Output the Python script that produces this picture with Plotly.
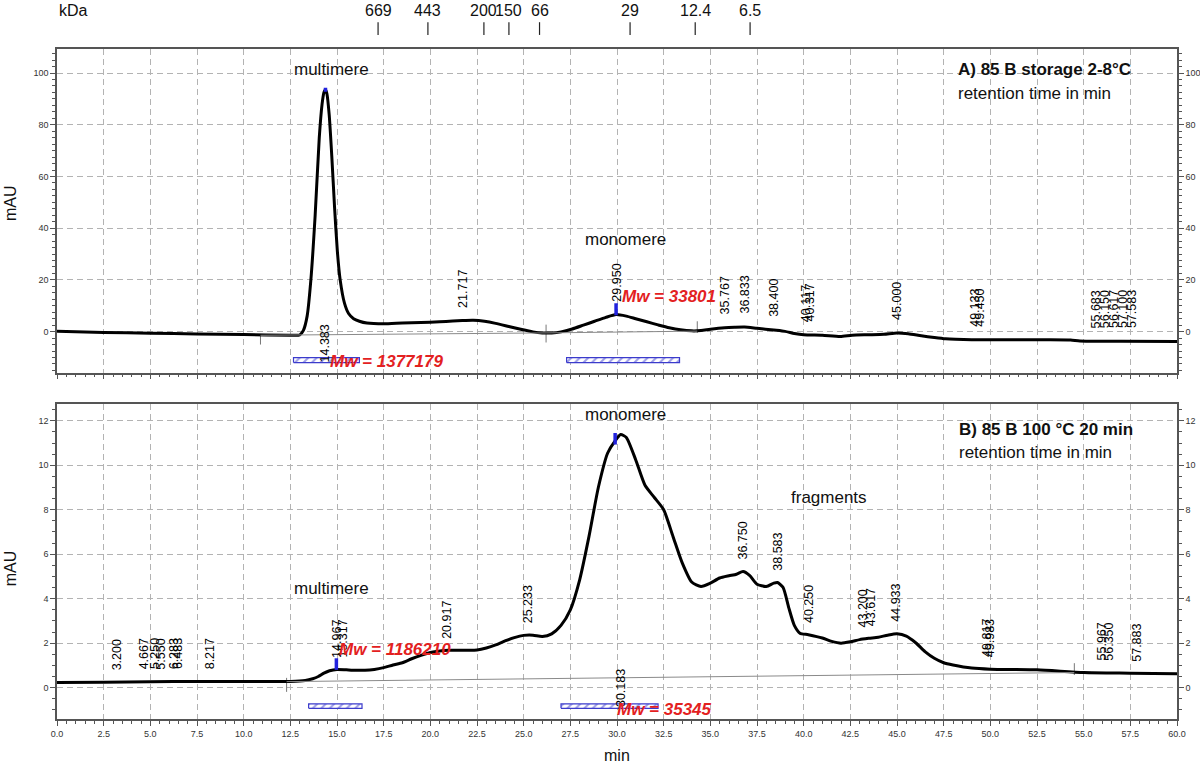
import numpy as np
import plotly.graph_objects as go

# ---------------- data ----------------
# Panel A: 85 B storage 2-8 °C  (retention time [min], signal [mAU])
tA = [0, 2.5, 5, 7.5, 10, 12.5, 13.0, 13.2, 13.4, 13.6, 13.83, 14.05, 14.2, 14.3, 14.38,
      14.46, 14.58, 14.72, 14.87, 15.02, 15.17, 15.4, 15.62, 15.89, 16.2, 16.6, 17.5,
      18.5, 19.5, 20.5, 21.2, 21.717, 22.3, 22.9, 23.5, 24.2, 24.9, 25.5, 26.0, 26.5,
      27.0, 27.6, 28.2, 28.8, 29.4, 29.95, 30.5, 31.0, 31.6, 32.2, 32.8, 33.4, 34.0,
      34.5, 35.0, 35.767, 36.3, 36.833, 37.5, 38.4, 39.0, 39.5, 40.0, 41.0, 41.96, 42.6,
      43.5, 44.3, 45.0, 45.6, 46.3, 47.0, 47.6, 49.0, 51.0, 53.0, 54.3, 54.8, 57.0, 60.0]
vA = [0.1, -0.3, -0.6, -0.9, -1.1, -1.4, -1.3, 0.5, 6.0, 20.0, 45.0, 75.0, 88.0, 92.5, 93.5,
      92.0, 84.0, 68.0, 48.0, 31.0, 20.0, 11.0, 7.0, 5.0, 4.0, 3.3, 3.0,
      3.3, 3.5, 3.8, 4.1, 4.3, 4.4, 4.0, 3.2, 2.0, 0.8, -0.1, -0.5, -0.5,
      -0.1, 1.0, 2.5, 4.0, 5.5, 6.6, 6.0, 5.0, 3.8, 2.6, 1.5, 0.7, 0.3,
      0.4, 0.9, 1.5, 1.7, 1.8, 1.3, 0.6, 0.1, -0.7, -1.2, -1.4, -1.9, -1.4,
      -1.2, -1.0, -0.5, -0.8, -1.6, -2.3, -2.8, -3.1, -3.1, -3.1, -3.2, -3.6, -3.7, -3.8]

# Panel B: 85 B 100 °C 20 min
tB = [0, 2.5, 5, 7.5, 10, 12.5, 13.3, 13.7, 14.0, 14.3, 14.6, 15.0, 15.5, 16.0, 16.5, 17.0,
      17.5, 18.0, 18.5, 19.0, 19.5, 20.0, 20.5, 21.0, 21.5, 22.0, 22.5, 23.0, 23.5, 24.0,
      24.5, 25.0, 25.5, 26.0, 26.5, 27.0, 27.5, 28.0, 28.5, 29.0, 29.5, 29.9, 30.2, 30.5,
      31.0, 31.5, 32.0, 32.5, 33.0, 33.5, 34.0, 34.5, 35.0, 35.5, 36.0, 36.4, 36.75, 37.1,
      37.5, 38.0, 38.4, 38.6, 38.9, 39.2, 39.5, 39.8, 40.25, 41.0, 41.5, 42.0, 42.5, 43.0,
      43.5, 44.0, 44.5, 45.0, 45.5, 46.0, 46.5, 47.0, 47.5, 48.0, 49.0, 50.0, 52.5, 55.0,
      57.5, 60.0]
vB = [0.23, 0.24, 0.27, 0.28, 0.28, 0.28, 0.32, 0.40, 0.50, 0.65, 0.76, 0.82, 0.80, 0.78, 0.78, 0.82,
      0.90, 1.02, 1.12, 1.30, 1.45, 1.58, 1.65, 1.68, 1.68, 1.68, 1.69, 1.78, 1.92, 2.10,
      2.25, 2.35, 2.36, 2.30, 2.42, 2.80, 3.50, 4.85, 6.80, 9.00, 10.55, 11.10, 11.38, 11.25,
      10.25, 9.10, 8.55, 8.00, 6.80, 5.60, 4.75, 4.55, 4.70, 4.93, 5.03, 5.10, 5.22, 5.05,
      4.65, 4.55, 4.70, 4.73, 4.50, 3.60, 2.80, 2.45, 2.38, 2.23, 2.08, 2.00, 2.06, 2.16,
      2.22, 2.27, 2.36, 2.42, 2.32, 2.02, 1.62, 1.32, 1.12, 1.02, 0.88, 0.83, 0.80, 0.68,
      0.65, 0.62]

# integration baselines
baseA1_t = [10.9, 26.2]; baseA1_v = [-1.4, -0.5]
baseA2_t = [26.2, 34.3]; baseA2_v = [-0.5, 0.2]
baseB_t = [12.3, 54.5];  baseB_v = [0.27, 0.68]
# baseline event marks (time, low, high)
evA_t = [10.9, 26.2, 34.3]; evA_lo = [-5.0, -4.2, -0.5]; evA_hi = [-1.0, 2.7, 4.0]
evB_t = [12.3, 54.5];       evB_lo = [-0.19, 0.57];      evB_hi = [0.44, 1.10]

# integration (Mw) ranges
intA_start = [12.67, 27.3]; intA_end = [16.2, 33.35]; intA_lo = -11.98; intA_hi = -10.05
intB_start = [13.48, 27.0]; intB_end = [16.34, 32.2]; intB_lo = -0.93; intB_hi = -0.73

# peak apex markers (time, low, high)
mkA_t = [14.383, 29.95]; mkA_lo = [92.8, 6.3]; mkA_hi = [94.3, 11.0]
mkB_t = [14.967, 29.9];  mkB_lo = [0.8, 10.93]; mkB_hi = [1.32, 11.45]

# peak retention-time labels
peaksA = ["21.717", "29.950", "35.767", "36.833", "38.400", "40.117", "40.317", "45.000",
          "49.133", "49.450", "55.683", "56.150", "56.617", "57.100", "57.583"]
peaksB = ["3.200", "4.667", "5.250", "5.550", "6.283", "6.483", "8.217", "14.967", "15.317",
          "20.917", "25.233", "36.750", "38.583", "40.250", "43.200", "43.617", "44.933",
          "49.817", "49.983", "55.967", "56.350", "57.883"]
peakA_low = "14.383"
peakB_low = "30.183"

mwA = ["Mw = 1377179", "Mw = 33801"]
mwB = ["Mw = 1186210", "Mw = 35345"]

kda_labels = ["669", "443", "200", "150", "66", "29", "12.4", "6.5"]
kda_time = [17.2, 19.87, 22.87, 24.21, 25.85, 30.7, 34.19, 37.13]

x_ticks = [i * 2.5 for i in range(25)]

# ---------------- styling ----------------
FONT = "Liberation Sans, Arial, sans-serif"
AX = "#555555"
GRID = "#b3b3b3"
RED = "#e3211f"
BLUE = "#2222dd"

fig = go.Figure()

def curve(t, v, xa, ya, width=3.0, color="black", shape="spline"):
    fig.add_trace(go.Scatter(x=t, y=v, xaxis=xa, yaxis=ya, mode="lines",
                             line=dict(color=color, width=width, shape=shape, smoothing=0.6),
                             hoverinfo="skip", showlegend=False))

# baselines (drawn against the right-hand axes, which share the left axes' ranges)
curve(baseA1_t, baseA1_v, "x", "y3", 1, "#8a8a8a", "linear")
curve(baseA2_t, baseA2_v, "x", "y3", 1, "#8a8a8a", "linear")
curve(baseB_t, baseB_v, "x2", "y4", 1, "#8a8a8a", "linear")
for t, lo, hi in zip(evA_t, evA_lo, evA_hi):
    curve([t, t], [lo, hi], "x", "y", 1, "#777", "linear")
for t, lo, hi in zip(evB_t, evB_lo, evB_hi):
    curve([t, t], [lo, hi], "x2", "y2", 1, "#777", "linear")

# integration rectangles (hatched)
def rect(x0, x1, y0, y1, xa, ya):
    fig.add_trace(go.Scatter(x=[x0, x1, x1, x0, x0], y=[y0, y0, y1, y1, y0], xaxis=xa, yaxis=ya,
                             mode="lines", fill="toself", fillcolor="white",
                             fillpattern=dict(shape="/", fgcolor="#3b3bcc", bgcolor="white",
                                              size=6, solidity=0.35),
                             line=dict(color="#3b3bcc", width=1.2),
                             hoverinfo="skip", showlegend=False))

for a, b in zip(intA_start, intA_end):
    rect(a, b, intA_lo, intA_hi, "x", "y")
for a, b in zip(intB_start, intB_end):
    rect(a, b, intB_lo, intB_hi, "x2", "y2")

# main chromatograms
curve(tA, vA, "x", "y")
curve(tB, vB, "x2", "y2")

# apex markers
for t, lo, hi in zip(mkA_t, mkA_lo, mkA_hi):
    curve([t, t], [lo, hi], "x", "y", 3.5, BLUE, "linear")
for t, lo, hi in zip(mkB_t, mkB_lo, mkB_hi):
    curve([t, t], [lo, hi], "x2", "y2", 3.5, BLUE, "linear")

ann = []
LBL = dict(family=FONT, size=12.5, color="#000")

def peak_labels(labels, t_curve, v_curve, xr, yr, shift):
    for lab in labels:
        t = float(lab)
        ann.append(dict(x=t, y=float(np.interp(t, t_curve, v_curve)), xref=xr, yref=yr,
                        text=lab, textangle=-90, showarrow=False, xanchor="center",
                        yanchor="bottom", yshift=shift, font=LBL))

peak_labels(peaksA, tA, vA, "x", "y", 11)
peak_labels(peaksB, tB, vB, "x2", "y2", 10)
ann.append(dict(x=float(peakA_low), y=-4.4, xref="x", yref="y", text=peakA_low, textangle=-90,
                showarrow=False, font=LBL))
ann.append(dict(x=float(peakB_low), y=0.0, xref="x2", yref="y2", text=peakB_low, textangle=-90,
                showarrow=False, font=LBL))

def mw(text, x, y, xr, yr):
    ann.append(dict(x=x, y=y, xref=xr, yref=yr, text="<b><i>" + text + "</i></b>", showarrow=False,
                    xanchor="left", yanchor="middle", font=dict(family=FONT, size=17, color=RED)))

mw(mwA[0], 14.53, -11.6, "x", "y")
mw(mwA[1], 30.17, 13.6, "x", "y")
mw(mwB[0], 14.99, 1.70, "x2", "y2")
mw(mwB[1], 29.9, -0.97, "x2", "y2")

def txt(text, x, y, xr, yr, xanchor="center", size=17, angle=0):
    ann.append(dict(x=x, y=y, xref=xr, yref=yr, text=text, showarrow=False, xanchor=xanchor,
                    yanchor="middle", textangle=angle,
                    font=dict(family=FONT, size=size, color="#111")))

txt("multimere", 14.73, 101.2, "x", "y")
txt("monomere", 30.44, 35.5, "x", "y")
txt("<b>A) 85 B storage 2-8°C</b>", 48.18, 101.2, "x", "y", "left")
txt("retention time in min", 48.18, 92.2, "x", "y", "left")
txt("monomere", 30.44, 12.3, "x2", "y2")
txt("multimere", 14.73, 4.48, "x2", "y2")
txt("fragments", 41.37, 8.53, "x2", "y2")
txt("<b>B) 85 B 100 °C 20 min</b>", 48.24, 11.6, "x2", "y2", "left")
txt("retention time in min", 48.24, 10.59, "x2", "y2", "left")

# axis titles
txt("mAU", -0.042, 0.77, "paper", "paper", size=16, angle=-90)
txt("mAU", -0.042, 0.225, "paper", "paper", size=16, angle=-90)
txt("min", 0.5, -0.055, "paper", "paper", size=16)

# kDa scale on top
for lab, t in zip(kda_labels, kda_time):
    ann.append(dict(x=t, y=1.058, xref="x", yref="paper", text=lab, showarrow=False,
                    xanchor="center", yanchor="middle", font=dict(family=FONT, size=16, color="#111")))
ann.append(dict(x=0, y=1.058, xref="x", yref="paper", text="kDa", showarrow=False,
                xanchor="left", yanchor="middle", font=dict(family=FONT, size=16, color="#111")))
shapes = [dict(type="line", xref="x", yref="paper", x0=t, x1=t, y0=1.021, y1=1.040,
               line=dict(color="#222", width=1.2)) for t in kda_time]

common_x = dict(range=[0, 60], tickvals=x_ticks, ticks="outside", ticklen=5, tickcolor=AX,
                showline=True, linecolor=AX, linewidth=1.5, mirror=True, automargin=False,
                showgrid=True, gridcolor=GRID, griddash="6px,4px", gridwidth=1, zeroline=False,
                minor=dict(dtick=0.5, ticks="outside", ticklen=3, tickcolor=AX, showgrid=False),
                tickfont=dict(family=FONT, size=9, color="#333"))

def yax(domain, rng, dtick, mdtick, side="left", overlay=None, anchor="x"):
    d = dict(domain=domain, range=rng, dtick=dtick, tick0=0, ticks="outside", ticklen=5,
             tickcolor=AX, showline=True, linecolor=AX, linewidth=1.5, zeroline=False,
             automargin=False,
             minor=dict(dtick=mdtick, ticks="outside", ticklen=3, tickcolor=AX, showgrid=False),
             tickfont=dict(family=FONT, size=9, color="#333"), side=side, anchor=anchor)
    if overlay:
        d.update(overlaying=overlay, showgrid=False)
    else:
        d.update(showgrid=True, gridcolor=GRID, griddash="6px,4px", gridwidth=1)
    return d

rngA = [-15.85, 109.3]
rngB = [-1.41, 12.75]

fig.update_layout(
    width=1200, height=763,
    margin=dict(l=57, r=23, t=49, b=44),
    paper_bgcolor="white", plot_bgcolor="white",
    showlegend=False,
    xaxis=dict(common_x, anchor="y", showticklabels=False),
    xaxis2=dict(common_x, anchor="y2", tickformat=".1f"),
    yaxis=yax([0.517, 1], rngA, 20, 2.5),
    yaxis3=yax([0.517, 1], rngA, 20, 2.5, side="right", overlay="y"),
    yaxis2=yax([0, 0.47], rngB, 2, 0.5, anchor="x2"),
    yaxis4=yax([0, 0.47], rngB, 2, 0.5, side="right", overlay="y2", anchor="x2"),
    annotations=ann,
    shapes=shapes,
)

fig.write_html("out.html", config={"displayModeBar": False},
               post_script="document.body.style.margin='0';document.body.style.overflow='hidden';")
